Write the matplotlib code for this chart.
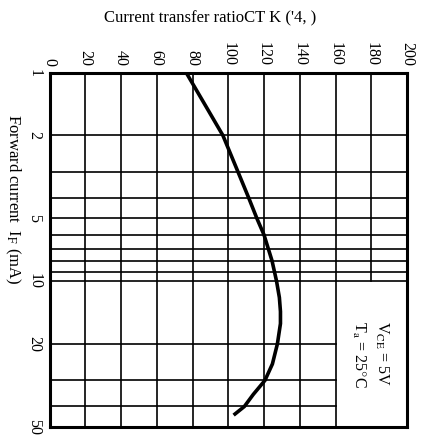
import matplotlib
matplotlib.use("Agg")
import matplotlib.pyplot as plt

plt.rcParams.update({
    "font.family": ["Liberation Serif", "DejaVu Serif"],
    "mathtext.fontset": "stix",
})

# CTR axis (top) and forward current axis (left, log)
ctr_ticks = [0, 20, 40, 60, 80, 100, 120, 140, 160, 180, 200]
if_ticks = [1, 2, 5, 10, 20, 50]
if_grid = [2, 3, 4, 5, 6, 7, 8, 9, 10, 20, 30, 40]

# curve: forward current (mA) -> CTR (%)
if_curve = [1, 1.5, 2, 3, 4, 5, 6, 8, 10, 12, 14, 16, 20, 25, 30, 35, 40, 44]
ctr_curve = [76.5, 88.5, 97, 105.5, 111.5, 116, 120, 124.5, 127, 128.6, 129.2,
             129.2, 127.5, 124.7, 120.5, 114, 109, 103]

box_ctr, box_if = 160, 10   # condition box in the lower right corner

fig = plt.figure(figsize=(4.22, 4.37), dpi=100)
ax = fig.add_axes([0.1173, 0.0236, 0.9645 - 0.1173, 0.8336 - 0.0236])

ax.set_yscale("log")
ax.set_xlim(0, 200)
ax.set_ylim(50, 1)

# grid drawn by hand so the condition box stays clear
for c in ctr_ticks[1:-1]:
    ymax = box_if if c > box_ctr else 50
    ax.plot([c, c], [1, ymax], color="black", lw=1.2, zorder=1)
for f in if_grid:
    xmax = box_ctr if f > box_if else 200
    ax.plot([0, xmax], [f, f], color="black", lw=1.2, zorder=1)

ax.plot(ctr_curve, if_curve, color="black", lw=2.6, solid_joinstyle="round",
        solid_capstyle="butt", zorder=3)

for s in ax.spines.values():
    s.set_linewidth(2.2)

ax.xaxis.tick_top()
ax.set_xticks(ctr_ticks)
ax.set_xticklabels([str(t) for t in ctr_ticks], rotation=270, fontsize=11.5)
ax.set_yticks(if_ticks)
ax.set_yticklabels([str(t) for t in if_ticks], rotation=270, fontsize=11.5, va="center")
ax.yaxis.set_minor_locator(matplotlib.ticker.NullLocator())
ax.tick_params(axis="both", which="both", length=0, pad=5)

fig.text(0.03, 0.545, r"Forward current  I$_{\rm F}$ (mA)", rotation=270,
         ha="center", va="center", fontsize=12)
fig.text(0.498, 0.958, "Current transfer ratioCT K ('4, )",
         ha="center", va="center", fontsize=12)

ax.text(186, 15.5, r"V$_{\rm CE}$ = 5V", rotation=270, ha="center", va="top", fontsize=11.5)
ax.text(173, 15.5, r"T$_{\rm a}$ = 25$\degree$C", rotation=270, ha="center", va="top", fontsize=11.5)

fig.savefig("out.png", dpi=100)
